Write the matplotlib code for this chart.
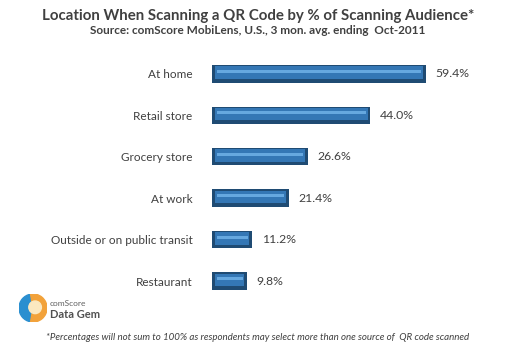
import matplotlib
matplotlib.use("Agg")

import matplotlib.pyplot as plt
from matplotlib.patches import Wedge, Circle

categories = ["At home", "Retail store", "Grocery store", "At work",
              "Outside or on public transit", "Restaurant"]
values = [59.4, 44.0, 26.6, 21.4, 11.2, 9.8]
value_labels = ["59.4%", "44.0%", "26.6%", "21.4%", "11.2%", "9.8%"]

plt.rcParams['font.family'] = ['Lato', 'DejaVu Sans']
txt = "#404040"

fig = plt.figure(figsize=(5.16, 3.48), dpi=100)
fig.patch.set_facecolor("white")
ax = fig.add_axes([212 / 516, 0.133, 270 / 516, 0.714])

pos = list(range(len(categories)))
# beveled look: dark base, mid body, light stripe
ax.barh(pos, values, height=0.42, color="#1f4b73", zorder=2)
ax.barh([p - 0.03 for p in pos], [v - 1.6 for v in values], left=0.8,
        height=0.30, color="#3477b5", zorder=3)
ax.barh([p - 0.06 for p in pos], [v - 2.6 for v in values], left=1.3,
        height=0.07, color="#66a8df", zorder=4)

for p, v, lab in zip(pos, values, value_labels):
    ax.text(v + 2.6, p, lab, va="center", ha="left", fontsize=8.8, color=txt)

ax.set_xlim(0, 75)
ax.set_ylim(5.5, -0.5)
ax.set_yticks(pos)
ax.set_yticklabels(categories, fontsize=8.5, color=txt)
ax.tick_params(axis="y", length=0, pad=14)
ax.set_xticks([])
for s in ax.spines.values():
    s.set_visible(False)

fig.text(0.5, 1 - 16 / 348, "Location When Scanning a QR Code by % of Scanning Audience*",
         ha="center", va="center", fontsize=10.8, fontweight="bold", color=txt)
fig.text(0.5, 1 - 31 / 348, "Source: comScore MobiLens, U.S., 3 mon. avg. ending  Oct-2011",
         ha="center", va="center", fontsize=8.5, fontweight="bold", color=txt)

# logo
lax = fig.add_axes([19 / 516, 1 - 322 / 348, 28 / 516, 28 / 348])
lax.set_xlim(-1, 1)
lax.set_ylim(-1, 1)
lax.set_aspect("equal")
lax.axis("off")
lax.add_patch(Wedge((0, 0), 1, 100, 260, color="#2a8fd0"))
lax.add_patch(Wedge((0, 0), 1, -100, 100, color="#f2a23a"))
lax.add_patch(Circle((0.15, 0.05), 0.45, color="#fbe8c0"))
fig.text(50 / 516, 1 - 304 / 348, "comScore", fontsize=6, color="#606060", va="center")
fig.text(50 / 516, 1 - 314 / 348, "Data Gem", fontsize=8, fontweight="bold",
         color="#505050", va="center")

fig.text(0.5, 1 - 337 / 348,
         "*Percentages will not sum to 100% as respondents may select more than one source of  QR code scanned",
         ha="center", va="center", fontsize=7, style="italic", color=txt)

fig.savefig("out.png", dpi=100)
